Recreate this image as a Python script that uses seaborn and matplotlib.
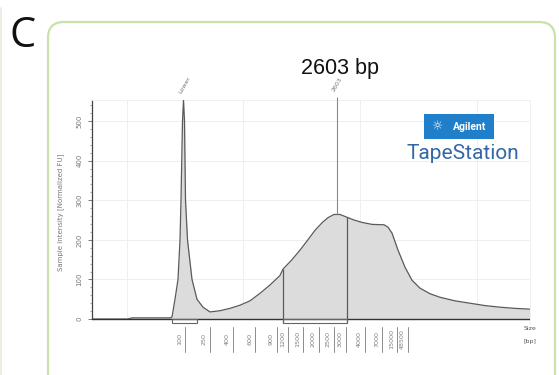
import numpy as np
import matplotlib
matplotlib.use("Agg")
import matplotlib.pyplot as plt
import matplotlib.transforms as mtransforms
from matplotlib.patches import FancyBboxPatch, Rectangle
from matplotlib.ticker import MultipleLocator
import seaborn as sns
import pandas as pd

# Electropherogram trace: migration distance vs. normalized intensity
migration = [0, 36, 40, 78, 80, 83, 86, 88, 89, 90.5, 91.5, 92.5, 93.5, 95.5, 100,
             105, 111, 118, 128, 138, 148, 158, 168, 178, 188, 191, 200, 208, 215,
             223, 230, 236, 242, 248, 255, 262, 270, 280, 292, 296, 300, 306, 313,
             320, 328, 338, 348, 363, 378, 393, 408, 423, 438]
intensity = [0, 0, 3, 3, 5, 50, 100, 200, 300, 500, 553, 500, 300, 200, 100,
             50, 30, 18, 21, 27, 35, 46, 65, 86, 110, 126, 150, 174, 197,
             224, 243, 256, 264, 264, 257, 250, 244, 239, 238, 232, 217, 174, 131,
             98, 78, 64, 55, 46, 40, 34, 30, 27, 25]

# Ladder sizes and their migration positions
ladder_bp = [100, 250, 400, 600, 900, 1200, 1500, 2000, 2500, 3000, 4000, 7000, 15000, 48500]
ladder_pos = [93, 118, 141, 163, 185, 196, 211, 227, 242, 254, 273, 290, 305, 316]

# Called peak and integration regions
peak_bp = 2603
lower_marker_bp = 100
lower_region = (80, 105)
sample_region = (191, 255)

y_ticks = [0, 100, 200, 300, 400, 500]

sns.set_style("white")
plt.rcParams["font.family"] = ["DejaVu Sans"]

W, H = 559, 375
fig = plt.figure(figsize=(W / 100, H / 100), dpi=100)
fig.patch.set_facecolor("white")


def fx(px):
    return px / W


def fy(py):
    return 1 - py / H


# Panel frame
frame = FancyBboxPatch((0.48, -0.3), 5.07, 3.83, boxstyle="round,pad=0,rounding_size=0.16",
                       transform=fig.dpi_scale_trans, facecolor="none",
                       edgecolor="#c8e2aa", linewidth=1.6, zorder=0)
fig.patches.append(frame)
fig.add_artist(plt.Line2D([fx(1.5), fx(1.5)], [0, fy(8)], color="#e4efdc", lw=1.2))

fig.text(fx(23), fy(47), "C", fontsize=30, family="Open Sans", color="#111111",
         ha="center", va="baseline")
fig.text(fx(340), fy(74), f"{peak_bp} bp", fontsize=15.5, family="Liberation Sans",
         color="#111111", ha="center", va="baseline")

# Plot area
ymin, ymax = -15, 553
ax = fig.add_axes([fx(92), fy(325), (530 - 92) / W, (325 - 100) / H])
ax.set_xlim(0, 438)
ax.set_ylim(ymin, ymax)
ax.patch.set_alpha(0)

df = pd.DataFrame({"migration": migration, "intensity": intensity})
ax.fill_between(df["migration"], 0, df["intensity"], color="#dcdcdc", lw=0, zorder=1)
sns.lineplot(data=df, x="migration", y="intensity", ax=ax, color="#5a5a5a",
             lw=0.9, zorder=3, sort=False)

# Faint grid
for v in [100, 200, 300, 400, 500]:
    ax.axhline(v, color="#efefef", lw=0.7, zorder=0)
for g in [35, 151, 268, 385]:
    ax.axvline(g, ymin=(0 - ymin) / (ymax - ymin), color="#efefef", lw=0.7, zorder=0)

ax.axhline(0, color="#333333", lw=1.0, zorder=4)

# Size calibration via log-linear interpolation on ladder
log_bp = np.log(ladder_bp)
peak_pos = float(np.interp(np.log(peak_bp), log_bp, ladder_pos))
lower_pos = float(np.interp(np.log(lower_marker_bp), log_bp, ladder_pos)) - 1.5

peak_top = float(np.interp(peak_pos, migration, intensity))
ax.vlines(peak_pos, peak_top, ymax + 8, color="#8a8a8a", lw=0.8, zorder=4, clip_on=False)

for edge in sample_region:
    ax.vlines(edge, -10, float(np.interp(edge, migration, intensity)),
              color="#5a5a5a", lw=0.9, zorder=4)

for r in (lower_region, sample_region):
    ax.add_patch(Rectangle((r[0], -10), r[1] - r[0], 10, fill=False,
                           edgecolor="#666666", lw=0.8, zorder=4, clip_on=False))

ax.text(lower_pos - 1, ymax + 14, "Lower", rotation=60, rotation_mode="anchor",
        fontsize=4.5, color="#777777", ha="left", va="bottom", clip_on=False)
ax.text(peak_pos - 1, ymax + 18, f"{peak_bp}", rotation=60, rotation_mode="anchor",
        fontsize=4.5, color="#777777", ha="left", va="bottom", clip_on=False)

# Spines
for s in ["top", "right"]:
    ax.spines[s].set_color("#f0f0f0")
    ax.spines[s].set_linewidth(0.7)
ax.spines["bottom"].set_visible(False)
ax.spines["left"].set_bounds(0, ymax)
ax.spines["left"].set_color("#444444")
ax.spines["left"].set_linewidth(0.9)

ax.set_yticks(y_ticks)
ax.set_yticklabels([str(t) for t in y_ticks], rotation=90, va="center",
                   fontsize=5, color="#777777")
ax.yaxis.set_minor_locator(MultipleLocator(20))
ax.tick_params(axis="y", which="major", length=3, width=0.6, color="#666666", pad=4,
               left=True)
ax.tick_params(axis="y", which="minor", length=1.5, width=0.5, color="#888888", left=True)
ax.set_xticks([])
ax.set_xlabel("")
ax.set_ylabel("Sample Intensity [Normalized FU]", fontsize=5, color="#777777", labelpad=9)

# Ladder size labels below the baseline
trans = mtransforms.blended_transform_factory(ax.transData, fig.transFigure)
for bp, pos in zip(ladder_bp, ladder_pos):
    ax.plot([pos, pos], [fy(327), fy(352)], transform=trans, color="#8c8c8c",
            lw=0.7, clip_on=False)
    ax.text(pos - 5.5, fy(339), str(bp), transform=trans, rotation=90, fontsize=4.6,
            color="#808080", ha="center", va="center", clip_on=False)
side = mtransforms.blended_transform_factory(ax.transAxes, fig.transFigure)
ax.text(1.0, fy(329), "Size", transform=side, fontsize=4.5, color="#555555",
        ha="center", va="center")
ax.text(1.0, fy(341), "[bp]", transform=side, fontsize=4.5, color="#555555",
        ha="center", va="center")

# Instrument badge
fig.patches.append(Rectangle((fx(424), fy(139)), (494 - 424) / W, (139 - 114) / H,
                             transform=fig.transFigure, facecolor="#1f7fca",
                             edgecolor="none"))
fig.text(fx(438), fy(127), "☼", fontsize=9, color="white", ha="center", va="center")
fig.text(fx(470), fy(127), "Agilent", fontsize=7.5, fontweight="bold", color="white",
         family="Roboto", ha="center", va="center")
fig.text(fx(463), fy(159), "TapeStation", fontsize=15, family="Roboto", color="#3467a6",
         ha="center", va="baseline")

fig.savefig("out.png", dpi=100, facecolor="white")
